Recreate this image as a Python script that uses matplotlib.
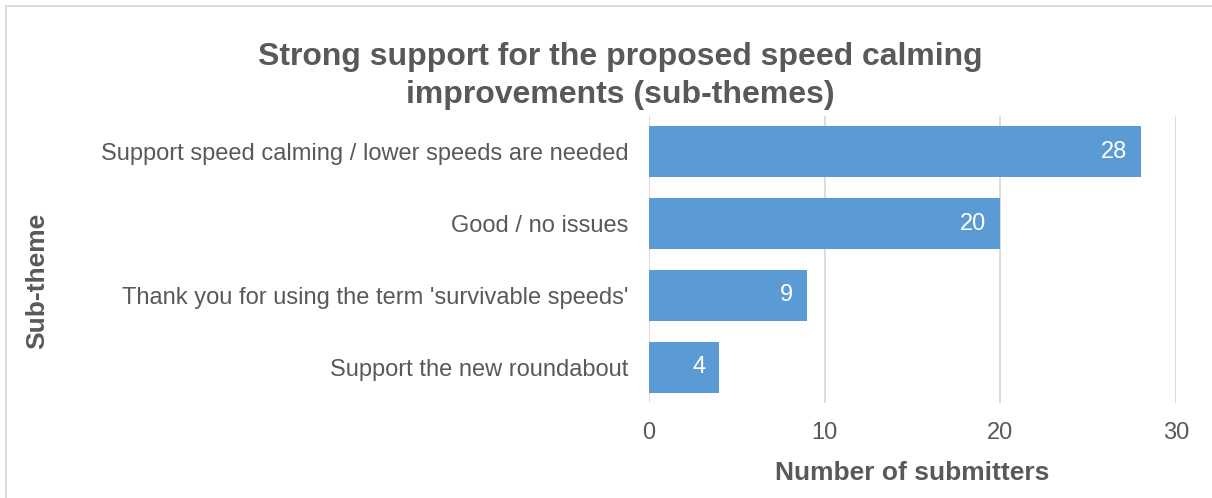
import matplotlib.pyplot as plt
import numpy as np
from matplotlib.patches import Rectangle

plt.rcParams['font.family'] = ['Liberation Sans', 'DejaVu Sans']

# Data
categories = ["Support speed calming / lower speeds are needed",
              "Good / no issues",
              "Thank you for using the term 'survivable speeds'",
              "Support the new roundabout"]
counts = [28, 20, 9, 4]
x_ticks = [0, 10, 20, 30]

grey = '#595959'
bar_color = '#5B9BD5'

fig = plt.figure(figsize=(12.12, 4.98), dpi=100)
ax = fig.add_axes([649 / 1212, 1 - 403 / 498, (1176 - 649) / 1212, (403 - 116) / 498])

y = np.arange(len(categories))
bars = ax.barh(y, counts, height=0.71, color=bar_color, zorder=2)
ax.set_ylim(len(categories) - 0.5, -0.5)
ax.set_xlim(0, 30)
ax.set_xticks(x_ticks)
ax.set_yticks(y)
ax.set_yticklabels(categories)

# value labels inside bar ends
for b, v in zip(bars, counts):
    ax.text(b.get_width() - 0.8, b.get_y() + b.get_height() / 2, str(v),
            ha='right', va='center', color='white', fontsize=17)

ax.grid(axis='x', color='#D9D9D9', linewidth=1.3, zorder=0)
for s in ax.spines.values():
    s.set_visible(False)
ax.tick_params(axis='both', length=0, labelsize=17, colors=grey)
ax.tick_params(axis='x', pad=14)
ax.tick_params(axis='y', pad=15)

ax.set_xlabel('Number of submitters', fontsize=19, fontweight='bold', color=grey, labelpad=12)
fig.text(37 / 1212, 1 - 281 / 498, 'Sub-theme', rotation=90, fontsize=19,
         fontweight='bold', color=grey, ha='center', va='center')

fig.text(620 / 1212, 1 - 76 / 498,
         'Strong support for the proposed speed calming\nimprovements (sub-themes)',
         ha='center', va='center', fontsize=23, fontweight='bold', color=grey,
         linespacing=1.32)

# chart border
fig.patches.append(Rectangle((6 / 1212, -0.01), 1.0, 1 - 6 / 498 + 0.01,
                             transform=fig.transFigure, fill=False,
                             edgecolor='#D9D9D9', linewidth=1.3))

fig.savefig('out.png', dpi=100)
